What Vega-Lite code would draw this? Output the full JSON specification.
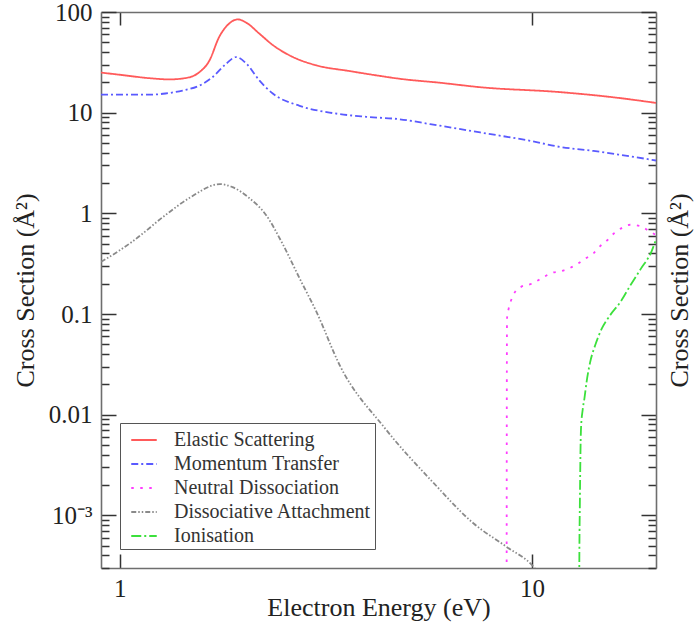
{
  "$schema": "https://vega.github.io/schema/vega-lite/v6.json",
  "width": 555,
  "height": 556,
  "autosize": "none",
  "padding": {"left": 101, "top": 12, "right": 44, "bottom": 62},
  "background": "white",
  "config": {
    "view": {"stroke": null},
    "axis": {
      "grid": false,
      "domainColor": "#6e6e6e",
      "domainWidth": 1.6,
      "tickColor": "#333333",
      "tickWidth": 1.5,
      "labelFont": "Liberation Serif",
      "labelFontSize": 25,
      "labelColor": "#222222",
      "titleFont": "Liberation Serif",
      "titleFontSize": 26,
      "titleFontWeight": "normal",
      "titleColor": "#222222",
      "labelFlush": false,
      "labelOverlap": false,
      "labelBound": false
    }
  },
  "datasets": {
    "curves": [
      {"series": "Elastic Scattering", "energy": 0.9, "cs": 25.0},
      {"series": "Elastic Scattering", "energy": 1.0, "cs": 23.8},
      {"series": "Elastic Scattering", "energy": 1.18, "cs": 22.0},
      {"series": "Elastic Scattering", "energy": 1.32, "cs": 21.4},
      {"series": "Elastic Scattering", "energy": 1.47, "cs": 22.4},
      {"series": "Elastic Scattering", "energy": 1.56, "cs": 25.3},
      {"series": "Elastic Scattering", "energy": 1.65, "cs": 33.0},
      {"series": "Elastic Scattering", "energy": 1.74, "cs": 56.0},
      {"series": "Elastic Scattering", "energy": 1.85, "cs": 78.0},
      {"series": "Elastic Scattering", "energy": 1.93, "cs": 84.5},
      {"series": "Elastic Scattering", "energy": 2.03, "cs": 78.0},
      {"series": "Elastic Scattering", "energy": 2.18, "cs": 61.0},
      {"series": "Elastic Scattering", "energy": 2.35, "cs": 47.0},
      {"series": "Elastic Scattering", "energy": 2.63, "cs": 35.7},
      {"series": "Elastic Scattering", "energy": 3.0, "cs": 29.5},
      {"series": "Elastic Scattering", "energy": 3.61, "cs": 25.9},
      {"series": "Elastic Scattering", "energy": 4.27, "cs": 23.2},
      {"series": "Elastic Scattering", "energy": 4.78, "cs": 21.7},
      {"series": "Elastic Scattering", "energy": 6.0, "cs": 19.8},
      {"series": "Elastic Scattering", "energy": 7.49, "cs": 17.9},
      {"series": "Elastic Scattering", "energy": 11.7, "cs": 16.0},
      {"series": "Elastic Scattering", "energy": 15.8, "cs": 14.2},
      {"series": "Elastic Scattering", "energy": 20.0, "cs": 12.5},

      {"series": "Momentum Transfer", "energy": 0.9, "cs": 15.1},
      {"series": "Momentum Transfer", "energy": 1.18, "cs": 15.1},
      {"series": "Momentum Transfer", "energy": 1.29, "cs": 15.5},
      {"series": "Momentum Transfer", "energy": 1.42, "cs": 16.6},
      {"series": "Momentum Transfer", "energy": 1.56, "cs": 18.6},
      {"series": "Momentum Transfer", "energy": 1.68, "cs": 22.6},
      {"series": "Momentum Transfer", "energy": 1.81, "cs": 30.6},
      {"series": "Momentum Transfer", "energy": 1.915, "cs": 35.7},
      {"series": "Momentum Transfer", "energy": 2.03, "cs": 30.6},
      {"series": "Momentum Transfer", "energy": 2.18, "cs": 20.9},
      {"series": "Momentum Transfer", "energy": 2.35, "cs": 15.5},
      {"series": "Momentum Transfer", "energy": 2.73, "cs": 11.7},
      {"series": "Momentum Transfer", "energy": 3.29, "cs": 9.9},
      {"series": "Momentum Transfer", "energy": 3.96, "cs": 9.1},
      {"series": "Momentum Transfer", "energy": 4.78, "cs": 8.6},
      {"series": "Momentum Transfer", "energy": 5.66, "cs": 7.7},
      {"series": "Momentum Transfer", "energy": 7.49, "cs": 6.36},
      {"series": "Momentum Transfer", "energy": 9.9, "cs": 5.25},
      {"series": "Momentum Transfer", "energy": 11.7, "cs": 4.57},
      {"series": "Momentum Transfer", "energy": 14.1, "cs": 4.17},
      {"series": "Momentum Transfer", "energy": 17.7, "cs": 3.63},
      {"series": "Momentum Transfer", "energy": 20.0, "cs": 3.35},

      {"series": "Neutral Dissociation", "energy": 8.68, "cs": 0.0001},
      {"series": "Neutral Dissociation", "energy": 8.69, "cs": 0.02},
      {"series": "Neutral Dissociation", "energy": 8.7, "cs": 0.09},
      {"series": "Neutral Dissociation", "energy": 8.78, "cs": 0.113},
      {"series": "Neutral Dissociation", "energy": 8.9, "cs": 0.137},
      {"series": "Neutral Dissociation", "energy": 9.1, "cs": 0.166},
      {"series": "Neutral Dissociation", "energy": 9.43, "cs": 0.187},
      {"series": "Neutral Dissociation", "energy": 9.99, "cs": 0.2},
      {"series": "Neutral Dissociation", "energy": 10.6, "cs": 0.229},
      {"series": "Neutral Dissociation", "energy": 11.2, "cs": 0.257},
      {"series": "Neutral Dissociation", "energy": 11.7, "cs": 0.265},
      {"series": "Neutral Dissociation", "energy": 12.3, "cs": 0.284},
      {"series": "Neutral Dissociation", "energy": 12.9, "cs": 0.315},
      {"series": "Neutral Dissociation", "energy": 13.5, "cs": 0.357},
      {"series": "Neutral Dissociation", "energy": 14.1, "cs": 0.4},
      {"series": "Neutral Dissociation", "energy": 14.6, "cs": 0.468},
      {"series": "Neutral Dissociation", "energy": 15.2, "cs": 0.537},
      {"series": "Neutral Dissociation", "energy": 15.8, "cs": 0.63},
      {"series": "Neutral Dissociation", "energy": 16.5, "cs": 0.713},
      {"series": "Neutral Dissociation", "energy": 17.3, "cs": 0.77},
      {"series": "Neutral Dissociation", "energy": 18.3, "cs": 0.75},
      {"series": "Neutral Dissociation", "energy": 19.2, "cs": 0.67},
      {"series": "Neutral Dissociation", "energy": 20.0, "cs": 0.61},

      {"series": "Dissociative Attachment", "energy": 0.9, "cs": 0.33},
      {"series": "Dissociative Attachment", "energy": 0.916, "cs": 0.344},
      {"series": "Dissociative Attachment", "energy": 1.073, "cs": 0.525},
      {"series": "Dissociative Attachment", "energy": 1.294, "cs": 0.97},
      {"series": "Dissociative Attachment", "energy": 1.474, "cs": 1.42},
      {"series": "Dissociative Attachment", "energy": 1.75, "cs": 1.95},
      {"series": "Dissociative Attachment", "energy": 1.877, "cs": 1.82},
      {"series": "Dissociative Attachment", "energy": 2.06, "cs": 1.42},
      {"series": "Dissociative Attachment", "energy": 2.26, "cs": 0.97},
      {"series": "Dissociative Attachment", "energy": 2.49, "cs": 0.486},
      {"series": "Dissociative Attachment", "energy": 2.73, "cs": 0.226},
      {"series": "Dissociative Attachment", "energy": 3.0, "cs": 0.105},
      {"series": "Dissociative Attachment", "energy": 3.42, "cs": 0.0307},
      {"series": "Dissociative Attachment", "energy": 4.39, "cs": 0.0074},
      {"series": "Dissociative Attachment", "energy": 5.77, "cs": 0.0021},
      {"series": "Dissociative Attachment", "energy": 7.22, "cs": 0.00083},
      {"series": "Dissociative Attachment", "energy": 8.68, "cs": 0.000486},
      {"series": "Dissociative Attachment", "energy": 10.1, "cs": 0.000307},
      {"series": "Dissociative Attachment", "energy": 10.5, "cs": 0.00025},

      {"series": "Ionisation", "energy": 13.02, "cs": 0.0001},
      {"series": "Ionisation", "energy": 13.03, "cs": 0.00032},
      {"series": "Ionisation", "energy": 13.07, "cs": 0.0013},
      {"series": "Ionisation", "energy": 13.15, "cs": 0.0071},
      {"series": "Ionisation", "energy": 13.28, "cs": 0.0113},
      {"series": "Ionisation", "energy": 13.4, "cs": 0.0143},
      {"series": "Ionisation", "energy": 13.58, "cs": 0.0216},
      {"series": "Ionisation", "energy": 13.84, "cs": 0.0331},
      {"series": "Ionisation", "energy": 14.23, "cs": 0.0486},
      {"series": "Ionisation", "energy": 14.77, "cs": 0.0714},
      {"series": "Ionisation", "energy": 15.47, "cs": 0.097},
      {"series": "Ionisation", "energy": 16.4, "cs": 0.132},
      {"series": "Ionisation", "energy": 17.35, "cs": 0.194},
      {"series": "Ionisation", "energy": 18.4, "cs": 0.284},
      {"series": "Ionisation", "energy": 19.5, "cs": 0.417},
      {"series": "Ionisation", "energy": 20.0, "cs": 0.55}
    ]
  },
  "data": {"name": "curves"},
  "layer": [
    {
      "mark": {"type": "line", "clip": true, "strokeWidth": 1.8, "strokeCap": "butt", "interpolate": "monotone"},
      "encoding": {
        "x": {
          "field": "energy", "type": "quantitative",
          "scale": {"type": "log", "domain": [0.9, 20], "nice": false},
          "axis": {
            "orient": "bottom",
            "values": [1, 10],
            "tickSize": -14,
            "labelPadding": 22,
            "title": "Electron Energy (eV)",
            "titlePadding": -7
          }
        },
        "y": {
          "field": "cs", "type": "quantitative",
          "scale": {"type": "log", "domain": [0.0003, 100], "nice": false},
          "axis": {
            "orient": "left",
            "values": [0.0003, 0.0004, 0.0005, 0.0006, 0.0007, 0.0008, 0.0009, 0.001, 0.002, 0.003, 0.004, 0.005, 0.006, 0.007, 0.008, 0.009, 0.01, 0.02, 0.03, 0.04, 0.05, 0.06, 0.07, 0.08, 0.09, 0.1, 0.2, 0.3, 0.4, 0.5, 0.6, 0.7, 0.8, 0.9, 1, 2, 3, 4, 5, 6, 7, 8, 9, 10, 20, 30, 40, 50, 60, 70, 80, 90, 100],
            "tickSize": {"condition": {"test": "indexof([0.001, 0.01, 0.1, 1, 10, 100], datum.value) >= 0", "value": -15}, "value": -8},
            "labelExpr": "datum.value == 100 ? '100' : datum.value == 10 ? '10' : datum.value == 1 ? '1' : datum.value == 0.1 ? '0.1' : datum.value == 0.01 ? '0.01' : datum.value == 0.001 ? '10⁻³' : ''",
            "labelPadding": 24,
            "title": "Cross Section (Å²)",
            "titlePadding": 10
          }
        },
        "color": {
          "field": "series", "type": "nominal",
          "scale": {
            "domain": ["Elastic Scattering", "Momentum Transfer", "Neutral Dissociation", "Dissociative Attachment", "Ionisation"],
            "range": ["#ff5a5a", "#5a5aff", "#ff3cff", "#8a8a8a", "#3ce03c"]
          },
          "legend": {
            "orient": "bottom-left",
            "offset": 19,
            "title": null,
            "symbolType": "stroke",
            "symbolSize": 650,
            "symbolStrokeWidth": 1.8,
            "symbolOffset": 7,
            "labelFont": "Liberation Serif",
            "labelFontSize": 20,
            "labelColor": "#333333",
            "labelOffset": 16,
            "labelLimit": 400,
            "strokeColor": "#555555",
            "fillColor": "white",
            "padding": 3,
            "rowPadding": 0
          }
        },
        "strokeDash": {
          "field": "series", "type": "nominal",
          "scale": {
            "domain": ["Elastic Scattering", "Momentum Transfer", "Neutral Dissociation", "Dissociative Attachment", "Ionisation"],
            "range": [[1, 0], [7, 3, 2, 3], [2.5, 6.5], [5, 2, 1.5, 2, 1.5, 2], [10, 3, 2, 3]]
          },
          "legend": {
            "orient": "bottom-left",
            "offset": 19,
            "title": null,
            "symbolType": "stroke",
            "symbolSize": 650,
            "symbolStrokeWidth": 1.8,
            "symbolOffset": 7,
            "labelFont": "Liberation Serif",
            "labelFontSize": 20,
            "labelColor": "#333333",
            "labelOffset": 16,
            "labelLimit": 400,
            "strokeColor": "#555555",
            "fillColor": "white",
            "padding": 3,
            "rowPadding": 0
          }
        }
      }
    },
    {
      "mark": {"type": "line", "clip": true, "opacity": 0},
      "encoding": {
        "x": {
          "field": "energy", "type": "quantitative",
          "scale": {"type": "log", "domain": [0.9, 20], "nice": false},
          "axis": {
            "orient": "top",
            "values": [1, 10],
            "tickSize": -13,
            "labels": false,
            "title": null
          }
        },
        "y": {
          "field": "cs", "type": "quantitative",
          "scale": {"type": "log", "domain": [0.0003, 100], "nice": false},
          "axis": {
            "orient": "right",
            "values": [0.0003, 0.0004, 0.0005, 0.0006, 0.0007, 0.0008, 0.0009, 0.001, 0.002, 0.003, 0.004, 0.005, 0.006, 0.007, 0.008, 0.009, 0.01, 0.02, 0.03, 0.04, 0.05, 0.06, 0.07, 0.08, 0.09, 0.1, 0.2, 0.3, 0.4, 0.5, 0.6, 0.7, 0.8, 0.9, 1, 2, 3, 4, 5, 6, 7, 8, 9, 10, 20, 30, 40, 50, 60, 70, 80, 90, 100],
            "tickSize": {"condition": {"test": "indexof([0.001, 0.01, 0.1, 1, 10, 100], datum.value) >= 0", "value": -15}, "value": -8},
            "labels": false,
            "title": "Cross Section (Å²)",
            "titleAngle": 270,
            "titlePadding": 36
          }
        },
        "detail": {"field": "series", "type": "nominal"}
      }
    }
  ],
  "resolve": {"axis": {"x": "independent", "y": "independent"}}
}
